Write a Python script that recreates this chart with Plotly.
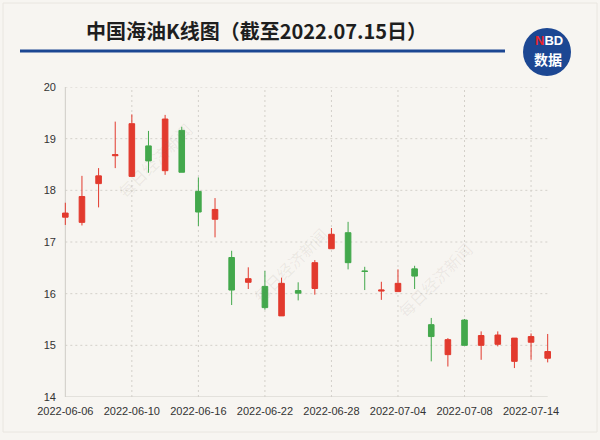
import plotly.graph_objects as go

# ---- data ----
dates = ["2022-06-06", "2022-06-07", "2022-06-08", "2022-06-09", "2022-06-10",
         "2022-06-13", "2022-06-14", "2022-06-15", "2022-06-16", "2022-06-17",
         "2022-06-20", "2022-06-21", "2022-06-22", "2022-06-23", "2022-06-24",
         "2022-06-27", "2022-06-28", "2022-06-29", "2022-06-30", "2022-07-01",
         "2022-07-04", "2022-07-05", "2022-07-06", "2022-07-07", "2022-07-08",
         "2022-07-11", "2022-07-12", "2022-07-13", "2022-07-14", "2022-07-15"]
open_ = [17.48, 17.38, 18.13, 18.67, 18.27, 18.86, 18.38, 19.16, 17.98, 17.44,
         16.70, 16.22, 16.14, 15.57, 16.06, 16.10, 16.87, 17.18, 16.44, 16.05,
         16.04, 16.48, 15.40, 14.82, 15.49, 15.00, 15.02, 14.69, 15.06, 14.75]
close = [17.56, 17.88, 18.28, 18.69, 19.29, 18.57, 19.38, 18.35, 17.58, 17.63,
         16.07, 16.29, 15.73, 16.20, 16.01, 16.60, 17.15, 16.60, 16.43, 16.07,
         16.20, 16.34, 15.17, 15.11, 15.00, 15.19, 15.20, 15.14, 15.17, 14.88]
high = [17.76, 18.28, 18.43, 19.33, 19.47, 19.15, 19.46, 19.23, 18.25, 17.85,
        16.83, 16.51, 16.44, 16.31, 16.22, 16.65, 17.27, 17.39, 16.52, 16.23,
        16.47, 16.54, 15.53, 15.14, 15.51, 15.27, 15.27, 15.14, 15.23, 15.22]
low = [17.33, 17.32, 17.67, 18.43, 18.26, 18.34, 18.30, 18.35, 17.31, 17.09,
       15.78, 16.09, 15.69, 15.57, 15.87, 15.98, 16.87, 16.47, 16.07, 15.88,
       16.04, 16.09, 14.69, 14.59, 15.00, 14.72, 14.98, 14.56, 14.72, 14.67]
y_ticks = [14, 15, 16, 17, 18, 19, 20]
x_tick_labels = dates[::4]

title_text = "中国海油K线图（截至2022.07.15日）"

# ---- style ----
BG = "#f7f5f1"
RED = "#e23a2e"
GREEN = "#43a84c"
BLUE = "#1c4793"
GRID = "#d3d0ca"
AXIS = "#cfccc6"

ML, MR, MT, MB = 57, 44, 87, 43
W, H = 600, 440
PW, PH = W - ML - MR, H - MT - MB


def xp(px):
    return (px - ML) / PW


def yp(py):
    return (H - MB - py) / PH


fig = go.Figure()
fig.add_trace(go.Candlestick(
    x=dates, open=open_, high=high, low=low, close=close,
    increasing=dict(line=dict(color=RED, width=1), fillcolor=RED),
    decreasing=dict(line=dict(color=GREEN, width=1), fillcolor=GREEN),
    whiskerwidth=0, showlegend=False, hoverinfo="x+y",
))

shapes = []
# horizontal dashed grid
for v in y_ticks[1:]:
    shapes.append(dict(type="line", xref="x", yref="y", x0=dates[0], x1=dates[-1],
                       y0=v, y1=v, line=dict(color=GRID, width=1, dash="2px,3px"),
                       layer="below"))
# vertical dashed grid
for d in x_tick_labels[1:]:
    shapes.append(dict(type="line", xref="x", yref="y", x0=d, x1=d,
                       y0=y_ticks[0], y1=y_ticks[-1],
                       line=dict(color=GRID, width=1, dash="2px,3px"), layer="below"))
# axis lines
shapes.append(dict(type="line", xref="x", yref="y", x0=dates[0], x1=dates[0],
                   y0=y_ticks[0], y1=y_ticks[-1], line=dict(color=AXIS, width=1),
                   layer="below"))
shapes.append(dict(type="line", xref="x", yref="y", x0=dates[0], x1=dates[-1],
                   y0=y_ticks[0], y1=y_ticks[0], line=dict(color=AXIS, width=1),
                   layer="below"))
# title underline
shapes.append(dict(type="line", xref="paper", yref="paper", x0=xp(20), x1=xp(505),
                   y0=yp(51), y1=yp(51), line=dict(color=BLUE, width=3)))
# logo circle
shapes.append(dict(type="circle", xref="paper", yref="paper",
                   x0=xp(523), x1=xp(571), y0=yp(28), y1=yp(76),
                   fillcolor=BLUE, line=dict(color=BLUE, width=0)))
# faint outer frame
shapes.append(dict(type="rect", xref="paper", yref="paper",
                   x0=xp(3), x1=xp(597), y0=yp(3), y1=yp(432),
                   line=dict(color="#e9e6e0", width=1), layer="below"))

annotations = [
    dict(text=title_text, xref="paper", yref="paper", x=xp(256), y=yp(30),
         showarrow=False, xanchor="center", yanchor="middle",
         font=dict(family="Noto Sans CJK SC", size=20, color="#1e1e1e", weight="bold")),
    dict(text="<b><span style='color:#e8262c'>N</span>BD</b>", xref="paper", yref="paper",
         x=xp(549), y=yp(41), showarrow=False, xanchor="center", yanchor="middle",
         font=dict(family="Liberation Sans", size=13, color="white")),
    dict(text="<b>数据</b>", xref="paper", yref="paper",
         x=xp(548), y=yp(59), showarrow=False, xanchor="center", yanchor="middle",
         font=dict(family="Noto Sans CJK SC", size=14, color="white")),
]
# faint watermarks
for (wx, wy) in [(110, 115), (290, 310), (480, 280)]:
    annotations.append(dict(text="每日经济新闻", xref="paper", yref="paper",
                            x=xp(wx), y=yp(wy), showarrow=False, textangle=-45,
                            font=dict(family="Noto Sans CJK SC", size=16,
                                      color="rgba(120,110,100,0.10)")))

fig.update_layout(
    width=W, height=H,
    margin=dict(l=ML, r=MR, t=MT, b=MB),
    paper_bgcolor=BG, plot_bgcolor=BG,
    shapes=shapes, annotations=annotations,
    boxgap=0.52,
    xaxis=dict(type="category", range=[-0.5, len(dates) - 0.5],
               rangeslider=dict(visible=False), showgrid=False, zeroline=False,
               showline=False, tickmode="array", tickvals=x_tick_labels,
               ticktext=x_tick_labels, ticks="outside", ticklen=4,
               tickcolor="rgba(0,0,0,0)",
               tickfont=dict(family="Liberation Sans", size=11, color="#333333")),
    yaxis=dict(range=[y_ticks[0], y_ticks[-1]], tickmode="array", tickvals=y_ticks,
               showgrid=False, zeroline=False, showline=False, ticks="",
               tickfont=dict(family="Liberation Sans", size=11, color="#333333")),
    font=dict(family="Liberation Sans"),
)

fig.write_html("out.html", config={"displayModeBar": False},
               post_script="document.body.style.margin='0';document.body.style.background='%s';" % BG)
